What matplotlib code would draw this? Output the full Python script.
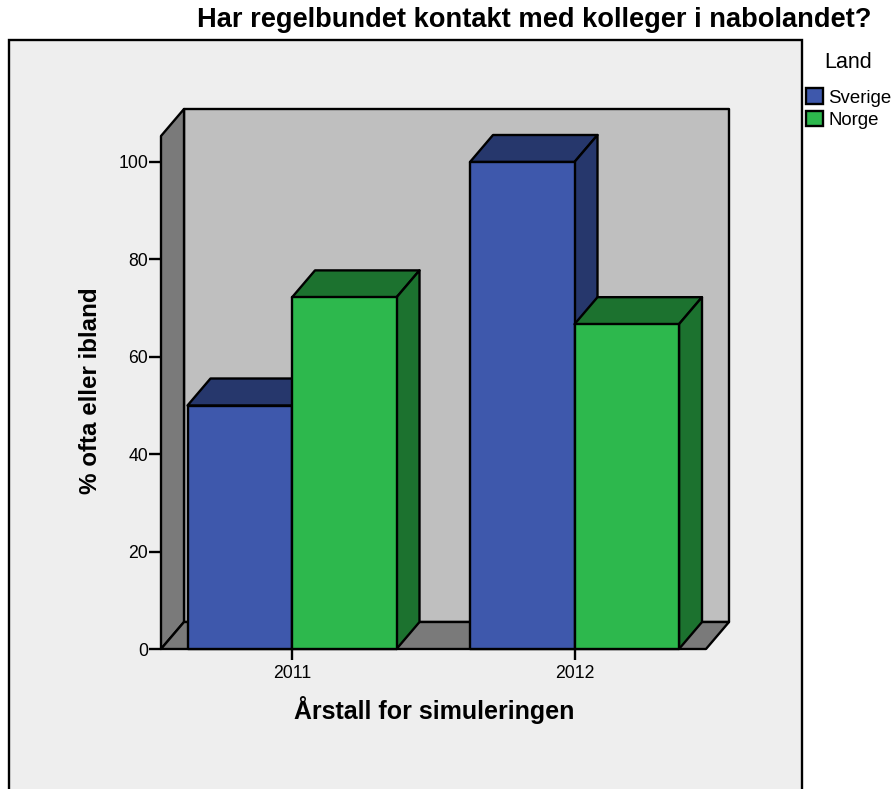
import matplotlib
matplotlib.use('Agg')
from matplotlib import pyplot as plt
from matplotlib.patches import Polygon, Rectangle, Patch

plt.rcParams['font.family'] = ['Liberation Sans', 'DejaVu Sans']

# Values
years = ['2011', '2012']
sverige = [50.0, 100.0]
norge = [72.2, 66.7]
yTicks = [0, 20, 40, 60, 80, 100]
seriesNames = ['Sverige', 'Norge']

W, H = 893, 789
BLUE, BLUE_DARK = '#3E58AC', '#26376C'
GREEN, GREEN_DARK = '#2DB84D', '#1C722F'
LW = 1.7

fig = plt.figure(figsize=(W/100., H/100.), dpi=100, facecolor='w')

# Panel background, runs off the bottom of the image
fig.patches.append(Rectangle((9./W, -0.01), 793./W, 1.01 - 40./H, transform=fig.transFigure,
                             facecolor='#EEEEEE', edgecolor='k', linewidth=LW, zorder=0))

# Axes is the front plane of the 3D box
x0, x1, yBase, yTop = 161., 706., 649., 136.
ax = fig.add_axes([x0/W, 1 - yBase/H, (x1-x0)/W, (yBase-yTop)/H])
ax.set_zorder(1)
ax.patch.set_visible(False)
catPx = 282.5
ax.set_xlim((x0-292.)/catPx, (x1-292.)/catPx)
ax.set_ylim(0, (yBase-yTop)/4.87)
for s in ax.spines.values():
    s.set_visible(False)

dx = 23./catPx        # depth offset, data units
dy = 27./4.87
xlo, xhi = ax.get_xlim()
yhi = ax.get_ylim()[1]
barW = 104.5/catPx


def face(pts, color, z):
    ax.add_patch(Polygon(pts, closed=True, facecolor=color, edgecolor='k', linewidth=LW,
                         joinstyle='round', clip_on=False, zorder=z))


def bar3d(left, val, front, dark, z):
    right = left + barW
    face([(left, val), (left+dx, val+dy), (right+dx, val+dy), (right, val)], dark, z)
    face([(right, 0), (right+dx, dy), (right+dx, val+dy), (right, val)], dark, z)
    face([(left, 0), (right, 0), (right, val), (left, val)], front, z + 0.1)


# Box walls
face([(xlo+dx, dy), (xhi+dx, dy), (xhi+dx, yhi+dy), (xlo+dx, yhi+dy)], '#BFBFBF', 1)
face([(xlo, 0), (xlo+dx, dy), (xlo+dx, yhi+dy), (xlo, yhi)], '#7A7A7A', 1.1)
face([(xlo, 0), (xhi, 0), (xhi+dx, dy), (xlo+dx, dy)], '#7A7A7A', 1.2)

z = 2
for i in range(len(years)):
    bar3d(i - barW, sverige[i], BLUE, BLUE_DARK, z)
    bar3d(i, norge[i], GREEN, GREEN_DARK, z + 1)
    z += 2

ax.set_xticks(range(len(years)))
ax.set_xticklabels(years)
ax.set_yticks(yTicks)
ax.tick_params(axis='y', length=8.6, width=LW, labelsize=12.7, pad=0.5)
ax.tick_params(axis='x', length=8, width=LW, labelsize=12.7, pad=3.7)

fig.text(534./W, 1 - 20./H, 'Har regelbundet kontakt med kolleger i nabolandet?', fontsize=19.6,
         fontweight='bold', ha='center', va='center')
fig.text(434./W, 1 - 710./H, 'Årstall for simuleringen', fontsize=18, fontweight='bold',
         ha='center', va='center')
fig.text(90.5/W, 1 - 391./H, '% ofta eller ibland', fontsize=17.4, fontweight='bold',
         rotation=90, ha='center', va='center')

handles = [Patch(facecolor=BLUE, edgecolor='k', linewidth=LW),
           Patch(facecolor=GREEN, edgecolor='k', linewidth=LW)]
fig.legend(handles, seriesNames, loc='upper left', frameon=False,
           bbox_to_anchor=(806./W, 1 - 88.5/H), borderaxespad=0, borderpad=0,
           fontsize=13.4, handlelength=0.9, handleheight=0.9,
           handletextpad=0.3, labelspacing=0.22)
fig.text(848./W, 1 - 63./H, 'Land', fontsize=15.5, ha='center', va='center')

fig.savefig('out.png', dpi=100)
